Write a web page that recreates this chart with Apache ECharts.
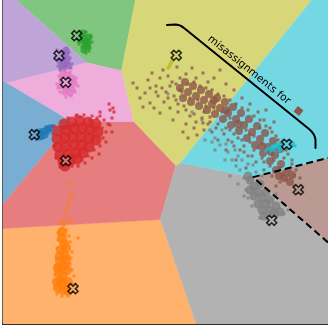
<!DOCTYPE html>
<html>
<head>
<meta charset="utf-8">
<script src="https://cdn.jsdelivr.net/npm/echarts/dist/echarts.min.js"></script>
<style>
  html, body { margin: 0; padding: 0; background: #fff; }
  #chart { width: 328px; height: 329px; }
</style>
</head>
<body>
<div id="chart"></div>
<script>
// cluster order: blue, orange, green, red, purple, brown, pink, gray, olive, cyan
const pointColors = ['#1f77b4', '#ff7f0e', '#2ca02c', '#d62728', '#9467bd', '#8c564b', '#e377c2', '#7f7f7f', '#bcbd22', '#17becf'];
const regionColors = ['#79add2', '#ffb26e', '#80c680', '#e67d7e', '#bfa4d7', '#ba9a93', '#eeadda', '#b2b2b2', '#d7d77a', '#74d8e2'];
const centroids = [[34.3, 134.7], [73, 288.7], [76.7, 35.7], [65.7, 160.7], [59, 55.7], [298.3, 189.7], [65.7, 82.3], [271.7, 220.3], [176.3, 55.3], [286.7, 144.3]];
const BROWN = 5;

const blueCore = [[37, 134], [41, 133], [44, 131], [48, 129], [40, 137], [45, 135], [50, 128]];
const blueSpread = [[35, 131], [37, 139], [43, 138], [48, 133], [52, 126], [51, 131], [46, 127], [40, 130]];
const orangeCore = [[62, 238], [64, 244], [61, 250], [65, 256], [60, 262], [64, 266], [59, 272], [63, 276], [67, 270], [60, 280], [64, 284], [68, 282], [58, 288], [63, 290], [68, 291], [72, 288], [66, 260], [66, 248], [60, 256], [62, 232], [58, 268], [57, 282]];
const orangeSpread = [[70, 183], [73, 195], [70, 198], [69, 203], [67, 208], [65, 213], [70, 217], [63, 220], [60, 223], [67, 223], [72, 222], [78, 238], [62, 228], [58, 233], [58, 240], [70, 242], [56, 258], [72, 252], [70, 264], [55, 275], [74, 276], [57, 294], [68, 296], [60, 232], [66, 230], [64, 225], [69, 236], [57, 248], [71, 258], [55, 266], [72, 270], [62, 296], [75, 284]];
const greenCore = [[81, 36], [84, 38], [87, 41], [85, 44], [87, 47], [84, 50], [80, 40], [89, 37], [83, 33], [88, 44]];
const greenSpread = [[79, 32], [86, 32], [91, 36], [92, 42], [90, 48], [86, 53], [82, 47], [79, 44], [78, 39], [89, 51], [83, 42]];
const redCore = [[64, 124], [72, 122], [80, 121], [88, 122], [96, 124],
  [58, 131], [66, 130], [74, 129], [82, 129], [90, 130], [98, 132],
  [57, 139], [65, 138], [73, 137], [81, 137], [89, 138], [96, 140],
  [58, 147], [66, 146], [74, 145], [82, 145], [89, 147],
  [60, 155], [68, 154], [76, 153], [83, 153],
  [63, 162], [70, 161], [77, 159], [65, 166]];
const redSpread = [[54, 126], [53, 134], [54, 146], [56, 158], [60, 167], [72, 166], [82, 160], [88, 156], [94, 150], [100, 146], [103, 138], [102, 128], [104, 120], [100, 116], [92, 116], [84, 115], [76, 116], [68, 118], [108, 124], [106, 132], [112, 118], [110, 110], [113, 108], [100, 112], [97, 118], [80, 117], [77, 115], [109, 104], [114, 112], [92, 158], [99, 154], [106, 142], [85, 163], [78, 166], [112, 132], [110, 125], [90, 120]];
const purpleCore = [[62, 53], [66, 55], [63, 58], [67, 61], [60, 61], [64, 64], [68, 66], [62, 67], [66, 50]];
const purpleSpread = [[57, 50], [58, 66], [70, 58], [72, 64], [65, 70], [60, 70], [69, 52], [71, 68], [56, 58]];
const brownCore = [[185, 82], [193, 86], [201, 90], [209, 94], [217, 98], [225, 102], [233, 107], [241, 113], [249, 119], [257, 126], [265, 133], [273, 141], [280, 149],
  [180, 88], [188, 92], [196, 96], [204, 100], [212, 104], [220, 108], [228, 113], [236, 119], [244, 125], [252, 132], [260, 139], [268, 147], [275, 155], [281, 164], [286, 173], [290, 182],
  [183, 98], [191, 102], [199, 106], [207, 110], [215, 114], [223, 119], [231, 125], [239, 131], [247, 138], [255, 145], [263, 153], [270, 161], [276, 170],
  [284, 178], [279, 176], [292, 175], [271, 152], [262, 146], [238, 124], [226, 110], [214, 100]];
const brownSpread = [[133, 83], [137, 88], [145, 93], [152, 73], [163, 70], [177, 67], [192, 68], [203, 73], [220, 70], [143, 107], [150, 103], [160, 113], [173, 120], [183, 132], [188, 138], [197, 135], [203, 123], [210, 117], [148, 80], [156, 86], [160, 78], [168, 76], [172, 82], [180, 78], [186, 74], [196, 78], [208, 82], [214, 78], [226, 84], [234, 90], [158, 96], [164, 102], [170, 108], [176, 100], [184, 106], [190, 116], [196, 122], [204, 112], [178, 112], [166, 92], [154, 108], [140, 98],
  [242, 98], [250, 104], [258, 112], [264, 120], [270, 128], [276, 136], [282, 142], [266, 110], [274, 122], [286, 150], [292, 160], [296, 170], [300, 178], [294, 186], [280, 182], [272, 176], [264, 170], [256, 162], [248, 156], [240, 150], [232, 142], [224, 134], [216, 128], [208, 124], [226, 150], [236, 160], [246, 168], [218, 140], [230, 130], [244, 146], [282, 174], [290, 170], [276, 186], [262, 158], [254, 150], [270, 166], [238, 138], [250, 134], [260, 128], [212, 132], [204, 130], [194, 128], [186, 124], [276, 150], [284, 158],
  [188, 84], [194, 82], [200, 86], [206, 88], [212, 90], [218, 94], [224, 96], [230, 100], [236, 104], [242, 108], [248, 110], [254, 116], [260, 120], [266, 126], [272, 132], [278, 140], [284, 146], [288, 154], [292, 164], [294, 176],
  [182, 92], [190, 98], [198, 100], [206, 106], [214, 108], [222, 112], [230, 118], [238, 122], [246, 130], [254, 136], [262, 144], [268, 152], [274, 160], [280, 168], [286, 180],
  [178, 104], [186, 110], [194, 114], [202, 118], [210, 122], [218, 124], [226, 128], [234, 134], [242, 140], [250, 142], [258, 148], [264, 162], [252, 156], [244, 152], [234, 146], [228, 140],
  [170, 86], [176, 84], [162, 88], [168, 98], [156, 92], [150, 88], [174, 96], [180, 90]];
const pinkCore = [[63, 74], [68, 75], [72, 78], [62, 80], [69, 81], [74, 83], [61, 86], [67, 87], [72, 89], [65, 92], [70, 93]];
const pinkSpread = [[59, 76], [57, 84], [76, 78], [78, 86], [60, 92], [75, 92], [66, 97], [71, 96], [64, 71], [70, 72], [58, 88]];
const grayCore = [[250, 180], [254, 186], [258, 192], [262, 198], [266, 204], [270, 210], [274, 214], [262, 210], [258, 204], [254, 196], [266, 192], [270, 200], [276, 206], [280, 212], [264, 216], [250, 190], [260, 184], [248, 176]];
const graySpread = [[240, 170], [244, 178], [236, 166], [246, 190], [248, 198], [232, 160], [228, 152], [238, 184], [284, 214], [284, 204], [276, 194], [262, 176], [256, 172], [220, 145], [215, 138], [230, 176], [252, 206], [244, 196], [225, 160], [210, 130], [202, 120], [192, 112], [182, 100], [168, 94], [205, 140], [215, 150], [242, 160], [253, 165], [288, 210], [268, 222], [260, 218], [235, 150], [222, 130], [198, 108], [212, 142], [238, 156], [248, 164], [226, 144]];
const oliveCore = [[174, 55], [173, 58], [172, 61], [171, 63], [170, 65], [169, 67]];
const oliveSpread = [[175, 53], [168, 68]];
const cyanCore = [[272, 148], [276, 146], [280, 145], [284, 143], [288, 142], [292, 144], [279, 149], [286, 147], [269, 150]];
const cyanSpread = [[266, 151], [295, 146], [283, 140], [275, 151], [290, 148]];

const coreSets = [blueCore, orangeCore, greenCore, redCore, purpleCore, brownCore, pinkCore, grayCore, oliveCore, cyanCore];
const spreadSets = [blueSpread, orangeSpread, greenSpread, redSpread, purpleSpread, brownSpread, pinkSpread, graySpread, oliveSpread, cyanSpread];
const coreSizes = [7, 10, 7, 11, 7, 8, 7, 9, 4, 6];

const annotationText = 'misassignments for';

// plotting box in data units
const X0 = 3, X1 = 328, Y0 = 0, Y1 = 324;

// voronoi cell of each centroid: clip the box by the bisector half-planes
function clipPoly(poly, a, b, c) {
  const out = [];
  for (let i = 0; i < poly.length; i++) {
    const p = poly[i], q = poly[(i + 1) % poly.length];
    const fp = a * p[0] + b * p[1] - c, fq = a * q[0] + b * q[1] - c;
    if (fp <= 0) out.push(p);
    if ((fp < 0 && fq > 0) || (fp > 0 && fq < 0)) {
      const t = fp / (fp - fq);
      out.push([p[0] + t * (q[0] - p[0]), p[1] + t * (q[1] - p[1])]);
    }
  }
  return out;
}
const cells = centroids.map((ci, i) => {
  let poly = [[X0, Y0], [X1, Y0], [X1, Y1], [X0, Y1]];
  centroids.forEach((cj, j) => {
    if (i === j) return;
    const a = 2 * (cj[0] - ci[0]), b = 2 * (cj[1] - ci[1]);
    const c = cj[0] * cj[0] + cj[1] * cj[1] - ci[0] * ci[0] - ci[1] * ci[1];
    poly = clipPoly(poly, a, b, c);
  });
  return poly;
});

// edges of the brown cell that lie inside the box
function onBox(p, q) {
  const e = 0.01;
  return (Math.abs(p[0] - X0) < e && Math.abs(q[0] - X0) < e) || (Math.abs(p[0] - X1) < e && Math.abs(q[0] - X1) < e) ||
    (Math.abs(p[1] - Y0) < e && Math.abs(q[1] - Y0) < e) || (Math.abs(p[1] - Y1) < e && Math.abs(q[1] - Y1) < e);
}
const brownEdges = [];
cells[BROWN].forEach((p, k, arr) => {
  const q = arr[(k + 1) % arr.length];
  if (!onBox(p, q)) brownEdges.push([p, q]);
});

const chart = echarts.init(document.getElementById('chart'));

const series = [{
  type: 'custom',
  z: 1,
  silent: true,
  data: cells.map((c, i) => i),
  renderItem: function (params, api) {
    const i = params.dataIndex;
    return {
      type: 'polygon',
      shape: { points: cells[i].map(p => api.coord(p)) },
      style: { fill: regionColors[i], stroke: regionColors[i], lineWidth: 0.5 }
    };
  }
}];

coreSets.forEach((pts, i) => {
  series.push({
    type: 'scatter', z: 2, silent: true, data: pts,
    symbol: 'circle', symbolSize: coreSizes[i],
    itemStyle: { color: pointColors[i] }
  });
});
spreadSets.forEach((pts, i) => {
  series.push({
    type: 'scatter', z: 3, silent: true, data: pts,
    symbol: 'rect', symbolSize: 3,
    itemStyle: { color: pointColors[i] }
  });
});

// dashed boundary of the brown cell
series.push({
  type: 'custom', z: 4, silent: true,
  data: brownEdges.map((e, i) => i),
  renderItem: function (params, api) {
    const e = brownEdges[params.dataIndex];
    const p = api.coord(e[0]), q = api.coord(e[1]);
    return {
      type: 'line',
      shape: { x1: p[0], y1: p[1], x2: q[0], y2: q[1] },
      style: { stroke: '#000', lineWidth: 2, lineDash: [7, 4] }
    };
  }
});

// centroids
series.push({
  type: 'scatter', z: 5, silent: true,
  data: centroids.map((c, i) => ({ value: c, itemStyle: { color: regionColors[i] } })),
  symbol: 'path://M0,1 L1,0 L2,1 L3,0 L4,1 L3,2 L4,3 L3,4 L2,3 L1,4 L0,3 L1,2 Z',
  symbolSize: 10,
  itemStyle: { borderColor: '#000', borderWidth: 1.6 }
});

// annotation: bracket, rotated text and brown square
const bracketPts = [[167, 25], [175, 24.5], [180, 24.5], [184, 28], [309, 129], [315, 134], [315.5, 140], [315.5, 148]];
const textAnchor = [249, 70];
const squareAnchor = [298.5, 111];
series.push({
  type: 'custom', z: 10, silent: true,
  data: [0],
  renderItem: function (params, api) {
    const b = bracketPts.map(p => api.coord(p));
    const d = 'M' + b[0].join(' ') + ' L' + b[1].join(' ') + ' Q' + b[2].join(' ') + ' ' + b[3].join(' ') +
      ' L' + b[4].join(' ') + ' Q' + b[5].join(' ') + ' ' + b[6].join(' ') + ' L' + b[7].join(' ');
    const tp = api.coord(textAnchor), sq = api.coord(squareAnchor);
    const ang = -39 * Math.PI / 180;
    return {
      type: 'group',
      children: [
        { type: 'path', shape: { pathData: d }, style: { fill: null, stroke: '#000', lineWidth: 2, lineCap: 'round' } },
        { type: 'text', x: tp[0], y: tp[1], rotation: ang,
          style: { text: annotationText, font: '10.5px "DejaVu Sans"', fill: '#000', align: 'center', verticalAlign: 'middle' } },
        { type: 'rect', x: sq[0], y: sq[1], rotation: ang,
          shape: { x: -3.5, y: -3.5, width: 7, height: 7 }, style: { fill: pointColors[BROWN] } }
      ]
    };
  }
});

chart.setOption({
  animation: false,
  grid: { left: 3, right: 0, top: 0, bottom: 5 },
  xAxis: {
    type: 'value', min: X0, max: X1,
    axisLine: { show: true, onZero: false, lineStyle: { color: '#000', width: 2 } },
    axisTick: { show: false }, axisLabel: { show: false }, splitLine: { show: false }
  },
  yAxis: {
    type: 'value', min: Y0, max: Y1, inverse: true,
    axisLine: { show: true, onZero: false, lineStyle: { color: '#000', width: 1.5 } },
    axisTick: { show: false }, axisLabel: { show: false }, splitLine: { show: false }
  },
  series: series
});
</script>
</body>
</html>
